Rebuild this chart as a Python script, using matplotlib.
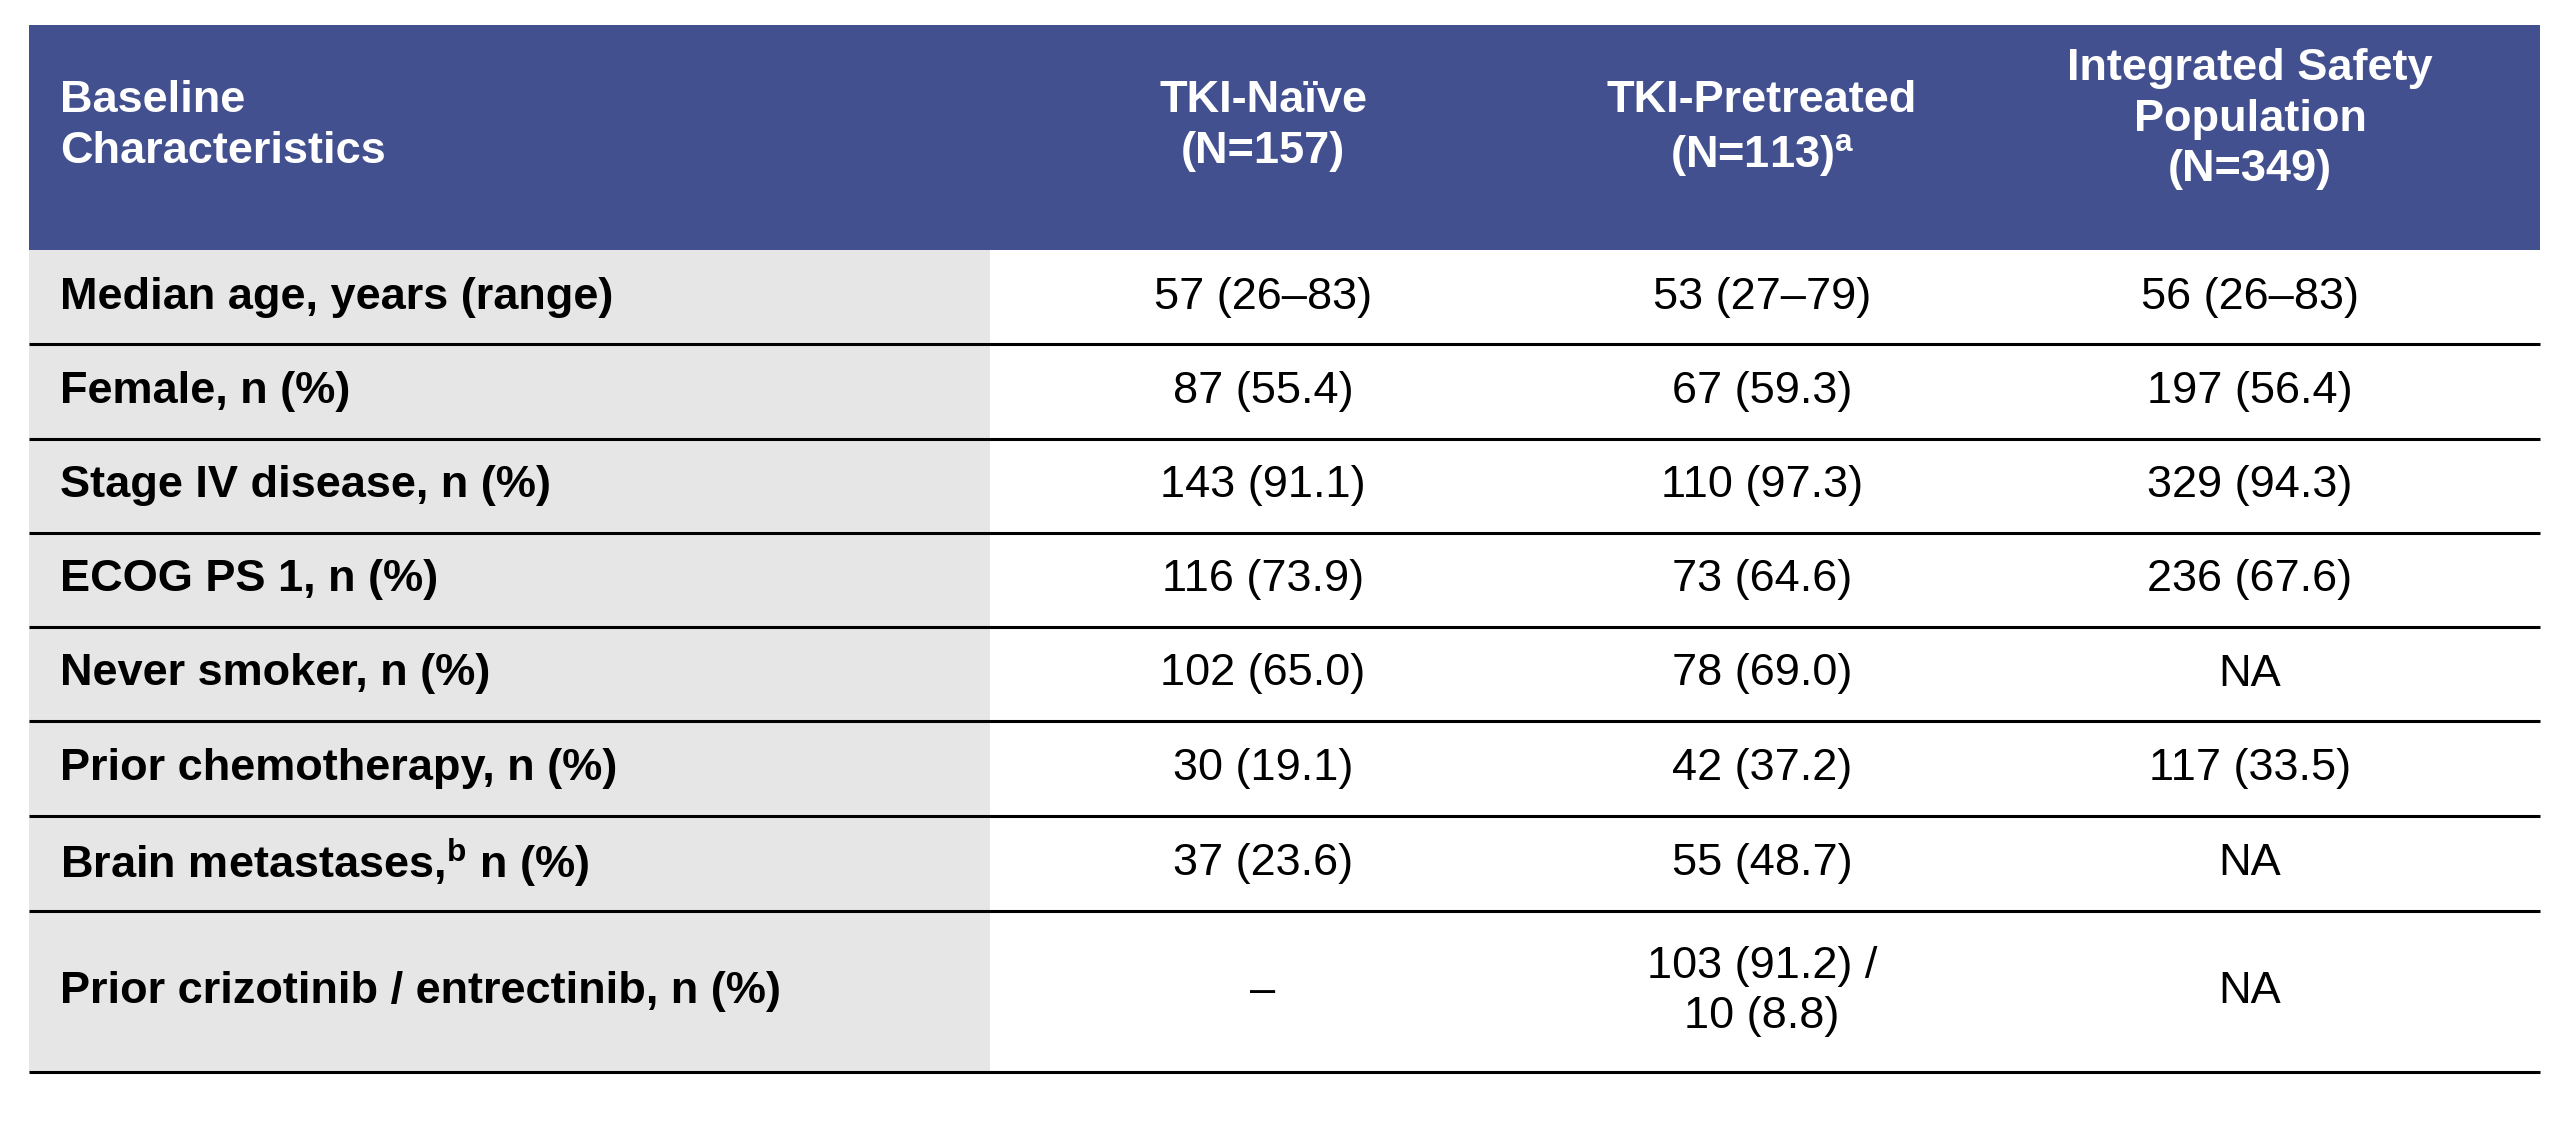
import matplotlib
matplotlib.use("Agg")
import matplotlib.pyplot as plt
from matplotlib.patches import Rectangle

header = ["Baseline\nCharacteristics", "TKI-Naïve\n(N=157)", "TKI-Pretreated\n(N=113)$^{\\mathregular{a}}$",
          "Integrated Safety\nPopulation\n(N=349)"]
row_labels = ["Median age, years (range)", "Female, n (%)", "Stage IV disease, n (%)", "ECOG PS 1, n (%)",
              "Never smoker, n (%)", "Prior chemotherapy, n (%)", "Brain metastases,$^{\\mathregular{b}}$ n (%)",
              "Prior crizotinib / entrectinib, n (%)"]
tki_naive = ["57 (26–83)", "87 (55.4)", "143 (91.1)", "116 (73.9)", "102 (65.0)", "30 (19.1)", "37 (23.6)", "–"]
tki_pre = ["53 (27–79)", "67 (59.3)", "110 (97.3)", "73 (64.6)", "78 (69.0)", "42 (37.2)", "55 (48.7)",
           "103 (91.2) /\n10 (8.8)"]
integrated = ["56 (26–83)", "197 (56.4)", "329 (94.3)", "236 (67.6)", "NA", "117 (33.5)", "NA", "NA"]

W, H = 2560, 1124
fig = plt.figure(figsize=(25.6, 11.24), dpi=100)
ax = fig.add_axes([0, 0, 1, 1])
ax.set_xlim(0, W); ax.set_ylim(H, 0); ax.axis("off")
plt.rcParams['font.family'] = ['Liberation Sans', 'DejaVu Sans']

L, R = 29, 2540
ht, hb = 25, 250
lines = [250, 344, 439, 533, 627, 721, 816, 911, 1072]
gray_r = 990
cols = [1263, 1762, 2250]
fs = 32.5

ax.add_patch(Rectangle((L, ht), R - L, hb - ht, color="#43508F", lw=0))
ax.add_patch(Rectangle((L, hb), gray_r - L, lines[-1] - hb, color="#E6E6E6", lw=0))
for y in lines[1:]:
    ax.plot([L, R], [y, y], color="black", lw=2.2, solid_capstyle="butt")

ax.text(60, 80, header[0], color="white", fontsize=fs, fontweight="bold", va="top", ha="left", linespacing=1.3)
for x, h, top in zip(cols, header[1:], [80, 80, 48]):
    ax.text(x, top, h, color="white", fontsize=fs, fontweight="bold", va="top", ha="center", linespacing=1.3)

for i, (lab, a, b, c) in enumerate(zip(row_labels, tki_naive, tki_pre, integrated)):
    yc = (lines[i] + lines[i + 1]) / 2
    ax.text(60, yc, lab, fontsize=fs, fontweight="bold", va="center", ha="left")
    for x, v in zip(cols, [a, b, c]):
        ax.text(x, yc, v, fontsize=fs, va="center", ha="center", linespacing=1.3)

fig.savefig("out.png", dpi=100, facecolor="white")
